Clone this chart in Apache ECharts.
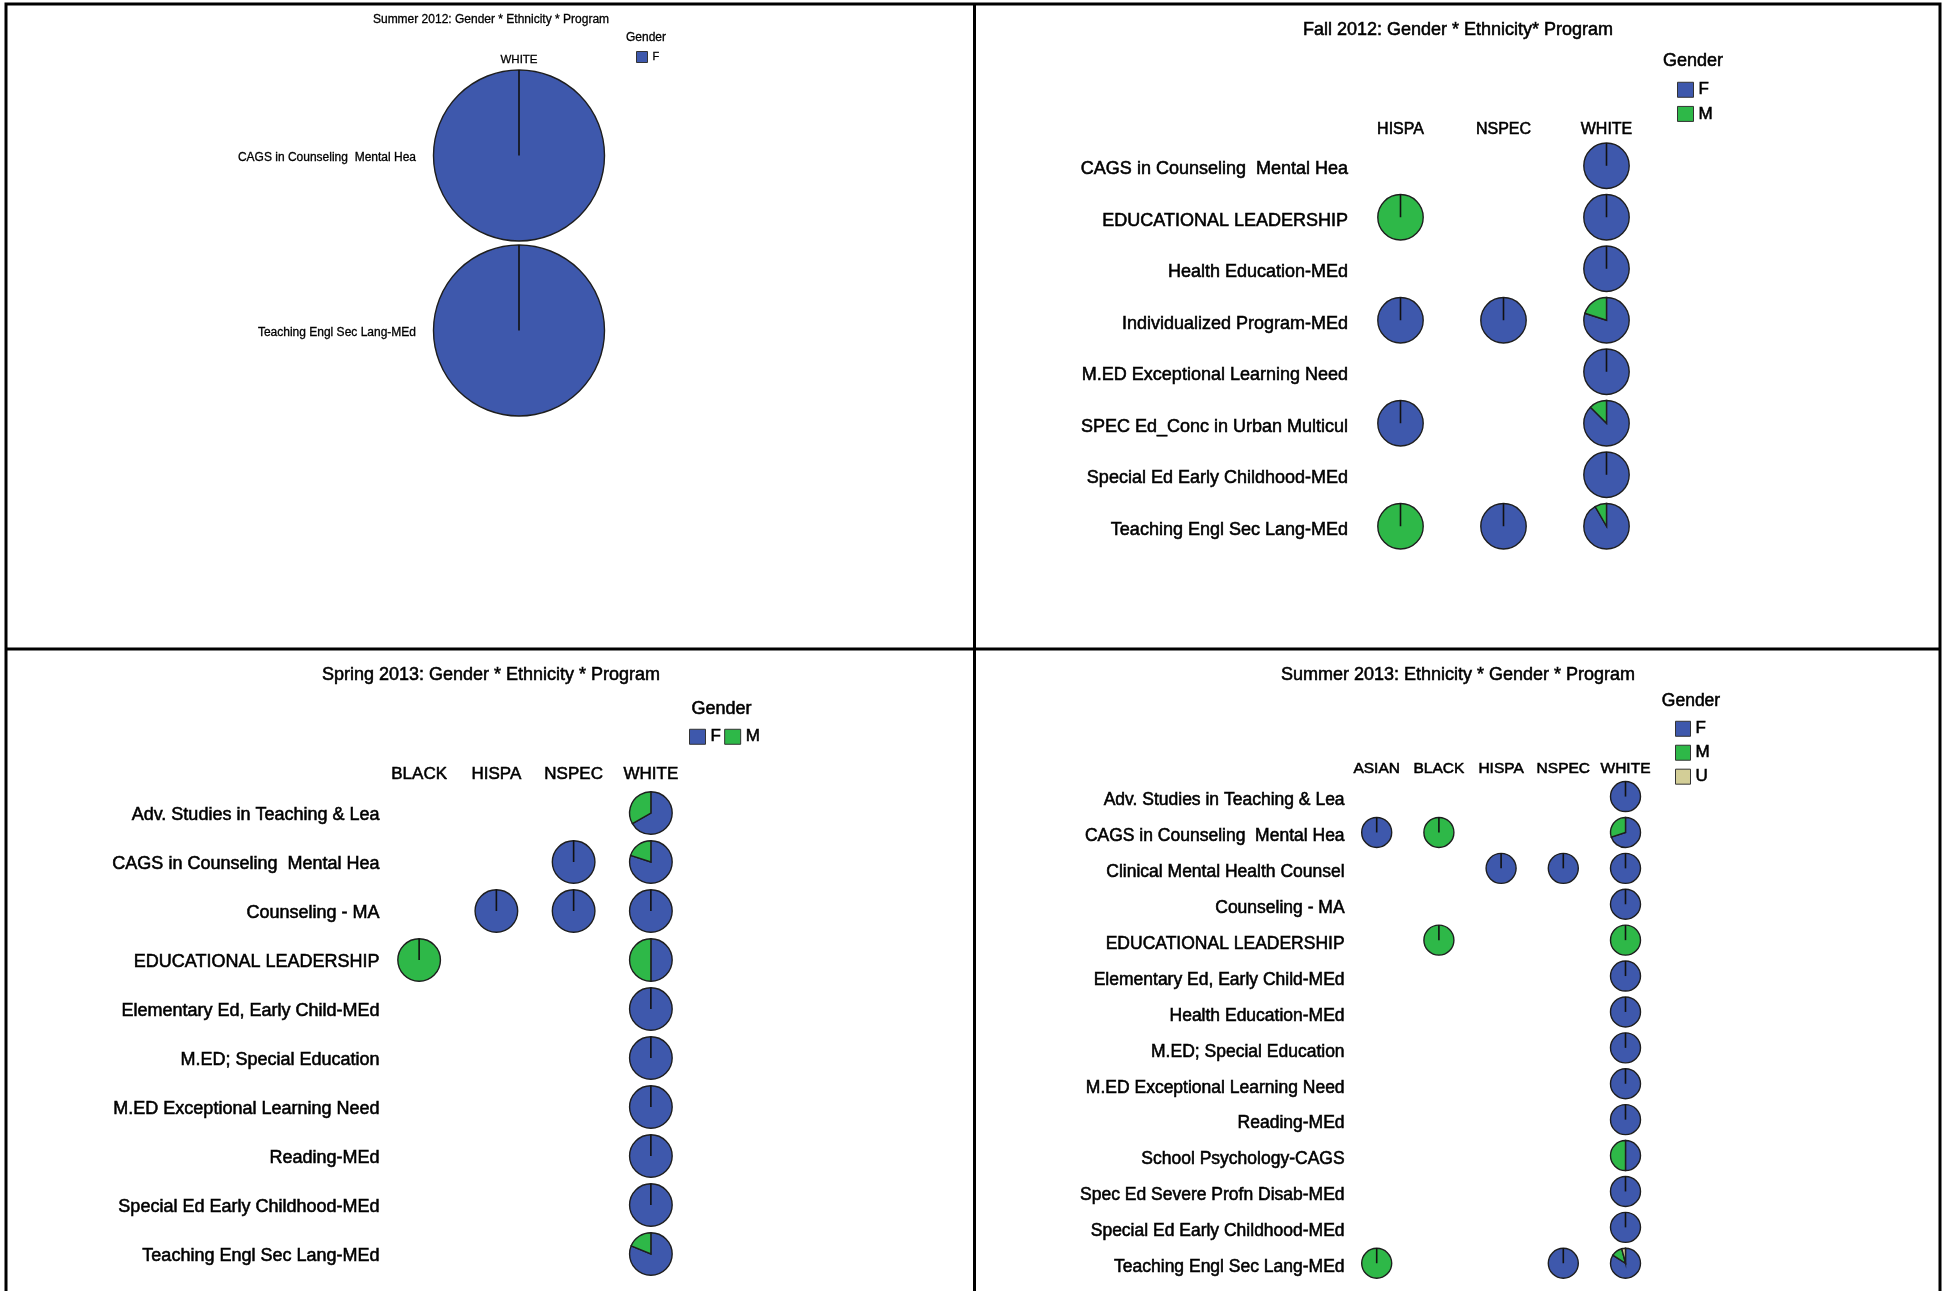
<!DOCTYPE html>
<html><head><meta charset="utf-8">
<script src="https://cdn.jsdelivr.net/npm/echarts@6/dist/echarts.min.js"></script>
<style>html,body{margin:0;padding:0;background:#fff}#c{width:1950px;height:1291px}</style>
</head><body><div id="c"></div><script>
// ---------- data ----------
const genders = ['F', 'M', 'U'];
const genderColors = ['#3E58AC', '#2EB848', '#D3CE97'];

// Summer 2012
const s12Title = 'Summer 2012: Gender * Ethnicity * Program';
const s12Ethnicities = ['WHITE'];
const s12Programs = ['CAGS in Counseling  Mental Hea', 'Teaching Engl Sec Lang-MEd'];
// cells: [ethnicity index, program index, F count, M count, U count]
const s12Cells = [[0, 0, 1, 0, 0], [0, 1, 1, 0, 0]];

// Fall 2012
const f12Title = 'Fall 2012: Gender * Ethnicity* Program';
const f12Ethnicities = ['HISPA', 'NSPEC', 'WHITE'];
const f12Programs = ['CAGS in Counseling  Mental Hea', 'EDUCATIONAL LEADERSHIP', 'Health Education-MEd',
  'Individualized Program-MEd', 'M.ED Exceptional Learning Need', 'SPEC Ed_Conc in Urban Multicul',
  'Special Ed Early Childhood-MEd', 'Teaching Engl Sec Lang-MEd'];
const f12Cells = [
  [2, 0, 3, 0, 0],
  [0, 1, 0, 1, 0], [2, 1, 2, 0, 0],
  [2, 2, 2, 0, 0],
  [0, 3, 1, 0, 0], [1, 3, 1, 0, 0], [2, 3, 4, 1, 0],
  [2, 4, 3, 0, 0],
  [0, 5, 1, 0, 0], [2, 5, 7, 1, 0],
  [2, 6, 2, 0, 0],
  [0, 7, 0, 1, 0], [1, 7, 1, 0, 0], [2, 7, 11, 1, 0]
];

// Spring 2013
const sp13Title = 'Spring 2013: Gender * Ethnicity * Program';
const sp13Ethnicities = ['BLACK', 'HISPA', 'NSPEC', 'WHITE'];
const sp13Programs = ['Adv. Studies in Teaching & Lea', 'CAGS in Counseling  Mental Hea', 'Counseling - MA',
  'EDUCATIONAL LEADERSHIP', 'Elementary Ed, Early Child-MEd', 'M.ED; Special Education',
  'M.ED Exceptional Learning Need', 'Reading-MEd', 'Special Ed Early Childhood-MEd', 'Teaching Engl Sec Lang-MEd'];
const sp13Cells = [
  [3, 0, 2, 1, 0],
  [2, 1, 1, 0, 0], [3, 1, 4, 1, 0],
  [1, 2, 1, 0, 0], [2, 2, 1, 0, 0], [3, 2, 3, 0, 0],
  [0, 3, 0, 1, 0], [3, 3, 1, 1, 0],
  [3, 4, 2, 0, 0], [3, 5, 2, 0, 0], [3, 6, 3, 0, 0], [3, 7, 2, 0, 0], [3, 8, 2, 0, 0],
  [3, 9, 13, 3, 0]
];

// Summer 2013
const su13Title = 'Summer 2013: Ethnicity * Gender * Program';
const su13Ethnicities = ['ASIAN', 'BLACK', 'HISPA', 'NSPEC', 'WHITE'];
const su13Programs = ['Adv. Studies in Teaching & Lea', 'CAGS in Counseling  Mental Hea', 'Clinical Mental Health Counsel',
  'Counseling - MA', 'EDUCATIONAL LEADERSHIP', 'Elementary Ed, Early Child-MEd', 'Health Education-MEd',
  'M.ED; Special Education', 'M.ED Exceptional Learning Need', 'Reading-MEd', 'School Psychology-CAGS',
  'Spec Ed Severe Profn Disab-MEd', 'Special Ed Early Childhood-MEd', 'Teaching Engl Sec Lang-MEd'];
const su13Cells = [
  [4, 0, 2, 0, 0],
  [0, 1, 1, 0, 0], [1, 1, 0, 1, 0], [4, 1, 7, 3, 0],
  [2, 2, 1, 0, 0], [3, 2, 1, 0, 0], [4, 2, 3, 0, 0],
  [4, 3, 2, 0, 0],
  [1, 4, 0, 1, 0], [4, 4, 0, 2, 0],
  [4, 5, 2, 0, 0], [4, 6, 1, 0, 0], [4, 7, 2, 0, 0], [4, 8, 2, 0, 0], [4, 9, 1, 0, 0],
  [4, 10, 1, 1, 0],
  [4, 11, 1, 0, 0], [4, 12, 2, 0, 0],
  [0, 13, 0, 1, 0], [3, 13, 1, 0, 0], [4, 13, 21, 3, 1]
];

// ---------- layout / style ----------
const FONT = '"Liberation Sans", Arial, sans-serif';
const TB = 0.55; // slight stroke to mimic the heavier SPSS text
const panels = [
  { title: s12Title, eth: s12Ethnicities, progs: s12Programs, cells: s12Cells, legendNames: ['F'],
    grid: { left: 417, top: 68, width: 204, height: 350 }, r: 85.5, titleSize: 12, rowSize: 12, colSize: 11.5,
    xMargin: 2, yMargin: 1, rowShift: 4, titlePos: [491, 20], genderPos: [646, 38], genderSize: 12,
    legend: { left: 636, top: 51, orient: 'vertical', w: 11, h: 11, gap: 4, size: 11 } },
  { title: f12Title, eth: f12Ethnicities, progs: f12Programs, cells: f12Cells, legendNames: ['F', 'M'],
    grid: { left: 1349, top: 140, width: 309, height: 412 }, r: 22.7, titleSize: 18, rowSize: 18, colSize: 16,
    xMargin: 2, yMargin: 1, rowShift: 7, titlePos: [1458, 30], genderPos: [1693, 61], genderSize: 18,
    legend: { left: 1677, top: 81, orient: 'vertical', w: 16, h: 15, gap: 6.6, size: 17 } },
  { title: sp13Title, eth: sp13Ethnicities, progs: sp13Programs, cells: sp13Cells, legendNames: ['F', 'M'],
    grid: { left: 380.5, top: 788.5, width: 309, height: 490 }, r: 21.3, titleSize: 18, rowSize: 18, colSize: 17,
    xMargin: 6, yMargin: 1, rowShift: 4, titlePos: [491, 675.5], genderPos: [721.5, 709], genderSize: 18,
    legend: { left: 689, top: 728, orient: 'horizontal', w: 16, h: 15, gap: 3, size: 17 } },
  { title: su13Title, eth: su13Ethnicities, progs: su13Programs, cells: su13Cells, legendNames: ['F', 'M', 'U'],
    grid: { left: 1345.6, top: 778.6, width: 311, height: 502.6 }, r: 15, titleSize: 18, rowSize: 17.5, colSize: 15.5,
    xMargin: 2, yMargin: 1, rowShift: 8, titlePos: [1458, 674.7], genderPos: [1691, 701], genderSize: 17.5,
    legend: { left: 1675, top: 720, orient: 'vertical', w: 15, h: 15, gap: 6.4, size: 17 } }
];

function makeRender(g, r) {
  return function (params, api) {
    const vals = [api.value(2), api.value(3), api.value(4)];
    const total = vals[0] + vals[1] + vals[2];
    const v = vals[g];
    if (!v || !total) return;
    let before = 0;
    for (let k = 0; k < g; k++) before += vals[k];
    const c = api.coord([api.value(0), api.value(1)]);
    const a0 = -Math.PI / 2 + before / total * Math.PI * 2;
    const a1 = -Math.PI / 2 + (before + v) / total * Math.PI * 2;
    const children = [{
      type: 'sector',
      shape: { cx: c[0], cy: c[1], r: r, r0: 0, startAngle: a0, endAngle: a1, clockwise: true },
      style: { fill: genderColors[g], stroke: '#1e1e1e', lineWidth: 1.4 }
    }];
    if (v === total) {
      children.push({ type: 'line', shape: { x1: c[0], y1: c[1], x2: c[0], y2: c[1] - r },
        style: { stroke: '#111', lineWidth: 1.6 } });
    }
    return { type: 'group', children: children };
  };
}

const option = {
  animation: false,
  backgroundColor: '#fff',
  title: [], legend: [], grid: [], xAxis: [], yAxis: [], series: [],
  graphic: [
    { type: 'rect', shape: { x: 6, y: 4, width: 1934, height: 1310 }, style: { fill: 'none', stroke: '#000', lineWidth: 3 } },
    { type: 'line', shape: { x1: 974.5, y1: 4, x2: 974.5, y2: 1300 }, style: { stroke: '#000', lineWidth: 3 } },
    { type: 'line', shape: { x1: 6, y1: 649, x2: 1940, y2: 649 }, style: { stroke: '#000', lineWidth: 3 } }
  ]
};

panels.forEach(function (p, i) {
  const tb = p.titleSize < 14 ? 0.3 : TB;
  option.title.push({ text: p.title, left: p.titlePos[0], top: p.titlePos[1], padding: 0,
    textAlign: 'center', textVerticalAlign: 'middle',
    textStyle: { fontFamily: FONT, fontSize: p.titleSize, fontWeight: 'normal', color: '#000',
      textBorderColor: '#000', textBorderWidth: tb } });
  option.title.push({ text: 'Gender', left: p.genderPos[0], top: p.genderPos[1], padding: 0,
    textAlign: 'center', textVerticalAlign: 'middle',
    textStyle: { fontFamily: FONT, fontSize: p.genderSize, fontWeight: 'normal', color: '#000',
      textBorderColor: '#000', textBorderWidth: tb } });
  option.legend.push({ data: p.legendNames, left: p.legend.left, top: p.legend.top, orient: p.legend.orient,
    padding: 0, itemWidth: p.legend.w, itemHeight: p.legend.h, itemGap: p.legend.gap, icon: 'rect',
    selectedMode: false,
    itemStyle: { borderColor: '#333', borderWidth: 1 },
    textStyle: { fontFamily: FONT, fontSize: p.legend.size, color: '#000', lineHeight: p.legend.h,
      textBorderColor: '#000', textBorderWidth: tb } });
  option.grid.push(Object.assign({ outerBoundsMode: 'none', containLabel: false }, p.grid));
  option.xAxis.push({ type: 'category', gridIndex: i, position: 'top', data: p.eth,
    axisLine: { show: false }, axisTick: { show: false }, splitLine: { show: false },
    axisLabel: { interval: 0, margin: p.xMargin, color: '#000', fontFamily: FONT, fontSize: p.colSize,
      textBorderColor: '#000', textBorderWidth: tb } });
  option.yAxis.push({ type: 'category', gridIndex: i, inverse: true, data: p.progs,
    axisLine: { show: false }, axisTick: { show: false }, splitLine: { show: false },
    axisLabel: { interval: 0, margin: p.yMargin,
      formatter: function (v) { return '{a|' + v + '}'; },
      rich: { a: { color: '#000', fontFamily: FONT, fontSize: p.rowSize, padding: [p.rowShift, 0, 0, 0],
        textBorderColor: '#000', textBorderWidth: tb } } } });
  genders.forEach(function (g, gi) {
    option.series.push({ type: 'custom', name: g, xAxisIndex: i, yAxisIndex: i,
      itemStyle: { color: genderColors[gi] },
      encode: { x: 0, y: 1 }, data: p.cells, renderItem: makeRender(gi, p.r), clip: false });
  });
});

const chart = echarts.init(document.getElementById('c'), null, { renderer: 'canvas' });
chart.setOption(option);
</script></body></html>
